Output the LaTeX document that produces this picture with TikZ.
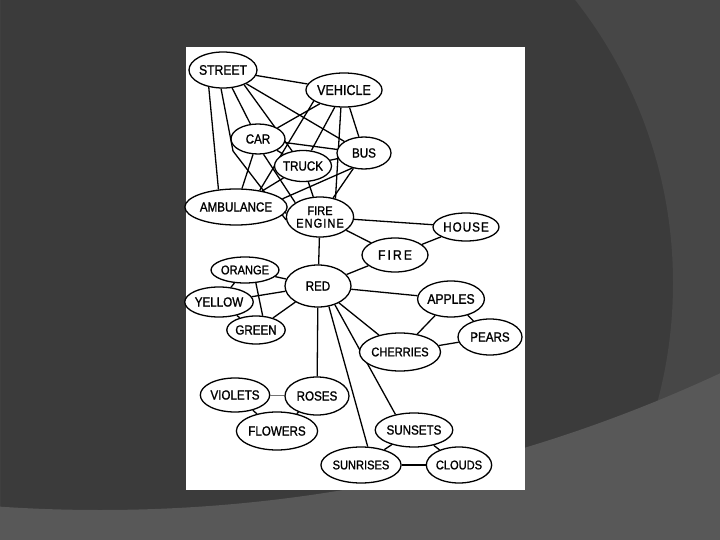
\documentclass[tikz,border=0pt]{standalone}
\usepackage{fontspec}
\setmainfont{Liberation Sans}
\newfontfamily\conceptfont[FakeBold=1.2,FakeStretch=0.88]{Liberation Sans}
\usetikzlibrary{shapes.geometric}
\definecolor{slidedark}{RGB}{59,59,59}
\definecolor{slidemid}{RGB}{71,71,71}
\definecolor{slideband}{RGB}{88,88,88}
\pgfdeclarelayer{back}
\pgfsetlayers{back,main}
\tikzset{
	concept/.style={ellipse, draw, fill=white, line width=1.3pt, inner sep=0pt, font=\conceptfont\fontsize{13.2}{13.2}\selectfont},
	sz/.style 2 args={minimum width=#1, minimum height=#2},
	link/.style={line width=1.3pt},
	thinlink/.style={line width=0.7pt, color=black!55},
}

\begin{document}
\begin{tikzpicture}[x=1pt,y=-1pt]
			%%%%% START %%%%%
			\useasboundingbox (0,0) rectangle (720,540);
			
			% vehicles
			\node[concept, sz={68}{36}, font=\conceptfont\fontsize{13.8}{13.8}\selectfont] (street) at (223,70) {STREET};
			\node[concept, sz={68}{34}, font=\conceptfont\fontsize{14.3}{14.3}\selectfont] (vehicle) at (344,90) {VEHICLE};
			\node[concept, sz={54}{30}] (car) at (258,139) {CAR};
			\node[concept, sz={54}{32}] (bus) at (364,153) {BUS};
			\node[concept, sz={57}{31}] (truck) at (303,166) {TRUCK};
			\node[concept, sz={86}{36}] (ambulance) at (236,207) {AMBULANCE};
			\node[concept, sz={66}{40}, align=center, font=\conceptfont\fontsize{12.6}{12.5}\selectfont] (fireengine) at (320,217) {FIRE\\\addfontfeature{LetterSpace=8}ENGINE};
			\coordinate (bend) at (233,151);
			
			% fire and colours
			\node[concept, sz={66}{28}, font=\conceptfont\fontsize{13.2}{13.2}\selectfont\addfontfeature{LetterSpace=8}] (house) at (466,227) {HOUSE};
			\node[concept, sz={66}{34}, font=\conceptfont\fontsize{13.8}{13.8}\selectfont\addfontfeature{LetterSpace=15}] (fire) at (395,255) {FIRE};
			\node[concept, sz={54}{26}, font=\conceptfont\fontsize{12.6}{12.6}\selectfont] (orange) at (245,270) {ORANGE};
			\node[concept, sz={66}{42}] (red) at (318,286) {RED};
			\node[concept, sz={54}{30}] (yellow) at (219,302) {YELLOW};
			\node[concept, sz={66}{36}, font=\conceptfont\fontsize{13.8}{13.8}\selectfont] (apples) at (451,299) {APPLES};
			\node[concept, sz={54}{28}] (green) at (256,330) {GREEN};
			\node[concept, sz={64}{36}] (pears) at (490,337) {PEARS};
			\node[concept, sz={66}{38}, font=\conceptfont\fontsize{12.6}{12.6}\selectfont] (cherries) at (400,352) {CHERRIES};
			
			% flowers and sky
			\node[concept, sz={64}{34}] (violets) at (235,395) {VIOLETS};
			\node[concept, sz={64}{38}] (roses) at (317,396) {ROSES};
			\node[concept, sz={66}{38}] (flowers) at (277,431) {FLOWERS};
			\node[concept, sz={64}{34}] (sunsets) at (414,430) {SUNSETS};
			\node[concept, sz={66}{36}, font=\conceptfont\fontsize{12.6}{12.6}\selectfont] (sunrises) at (361,465) {SUNRISES};
			\node[concept, sz={64}{36}, font=\conceptfont\fontsize{12.6}{12.6}\selectfont] (clouds) at (459,465) {CLOUDS};
			
			\begin{pgfonlayer}{back}
			\fill[slidedark] (0,0) rectangle (720,540);
			\fill[slidemid, even odd rule] (0,0) rectangle (720,540) (215,283) circle (458);
			\fill[slideband, even odd rule] (0,0) rectangle (720,540) (100,-961) circle (1471);
			\fill[white] (186,47) rectangle (525,490);
			
			\draw[link] (street) -- (vehicle);
			\draw[link] (street) -- (car);
			\draw[link] (street) -- (bus);
			\draw[link] (street.-35) -- (truck);
			\draw[link] (street.230) -- (ambulance.135);
			\draw[link] (street.264) -- (bend) -- (fireengine.185);
			\draw[link] (vehicle) -- (car);
			\draw[link] (vehicle) -- (truck);
			\draw[link] (vehicle) -- (bus);
			\draw[link] (vehicle.200) -- (ambulance.35);
			\draw[link] (vehicle.-100) -- (fireengine.50);
			\draw[link] (car) -- (bus);
			\draw[link] (car) -- (truck);
			\draw[link] (car) -- (ambulance);
			\draw[link] (car.-70) -- (fireengine.150);
			\draw[link] (bus) -- (truck);
			\draw[link] (bus.232) -- (ambulance.10);
			\draw[link] (bus) -- (fireengine);
			\draw[link] (truck) -- (ambulance);
			\draw[link] (truck) -- (fireengine);
			\draw[link] (ambulance) -- (fireengine);
			
			\draw[link] (fireengine) -- (house);
			\draw[link] (fireengine) -- (fire);
			\draw[link] (fireengine) -- (red);
			\draw[link] (house) -- (fire);
			\draw[link] (fire) -- (red);
			\draw[link] (red) -- (orange);
			\draw[link] (red) -- (yellow);
			\draw[link] (red) -- (green);
			\draw[link] (orange) -- (yellow);
			\draw[link] (orange.-50) -- (green.65);
			\draw[link] (yellow) -- (green);
			\draw[link] (red) -- (apples);
			\draw[link] (red) -- (cherries);
			\draw[link] (red) -- (roses);
			\draw[link] (red.-48) -- (sunsets.140);
			\draw[link] (red.-62) -- (sunrises.70);
			\draw[link] (apples) -- (pears);
			\draw[link] (apples) -- (cherries);
			\draw[link] (cherries) -- (pears);
			
			\draw[thinlink] (violets) -- (roses);
			\draw[link] (violets) -- (flowers);
			\draw[link] (roses) -- (flowers);
			\draw[link] (sunsets) -- (sunrises);
			\draw[link] (sunsets) -- (clouds);
			\draw[link, line width=2.4pt] (sunrises) -- (clouds);
			\end{pgfonlayer}
			
			%%%%% END %%%%%
\end{tikzpicture}
\end{document}
